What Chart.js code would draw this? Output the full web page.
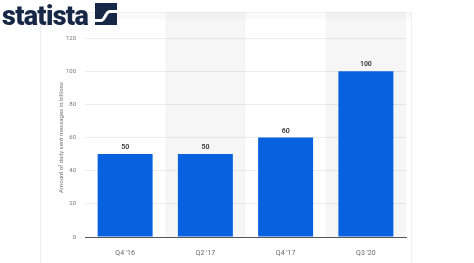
<!DOCTYPE html>
<html>
<head>
<meta charset="utf-8">
<script src="https://cdn.jsdelivr.net/npm/chart.js@4"></script>
<style>
  html, body { margin: 0; padding: 0; background: #fff; }
  .wrap { position: relative; width: 474px; height: 263px; }
  canvas { position: absolute; left: 0; top: 0; }
  .logo-text { position: absolute; left: 2px; top: 3px; font-family: Roboto, sans-serif; font-weight: 900; font-size: 27px; line-height: 27px; color: #172846; letter-spacing: -0.7px; }
  .logo-icon { position: absolute; left: 95px; top: 3px; }
</style>
</head>
<body>
<div class="wrap">
  <canvas id="chart" width="474" height="263"></canvas>
  <div class="logo-text">statista</div>
  <svg class="logo-icon" width="22" height="22" viewBox="0 0 22 22">
    <rect width="22" height="22" fill="#172846"/>
    <path d="M0 17.5 L6 17.5 C10 17.5 10.5 8.5 15 8.5 L22 8.5" stroke="#fff" stroke-width="3" fill="none"/>
  </svg>
</div>
<script>
const categories = ["Q4 '16", "Q2 '17", "Q4 '17", "Q3 '20"];
const messages = [50, 50, 60, 100];
const yTicks = [0, 20, 40, 60, 80, 100, 120];

// shaded bands behind every second category + faint outer panel
const bands = {
  id: 'bands',
  beforeDatasetsDraw(chart) {
    const { ctx, chartArea, scales: { x } } = chart;
    const half = (x.getPixelForValue(1) - x.getPixelForValue(0)) / 2;
    ctx.save();
    ctx.fillStyle = 'rgba(0,0,0,0.035)';
    categories.forEach((c, i) => {
      if (i % 2 === 1) {
        const cx = x.getPixelForValue(i);
        ctx.fillRect(cx - half, chartArea.top - 26, half * 2, chartArea.bottom - chartArea.top + 26);
      }
    });
    ctx.restore();
  },
  beforeDraw(chart) {
    const { ctx } = chart;
    ctx.save();
    ctx.strokeStyle = '#f0f0f0';
    ctx.lineWidth = 1;
    ctx.strokeRect(40.5, 12.5, 371, 260);
    ctx.fillStyle = '#fafafa';
    ctx.fillRect(41, 13, 370, 6);
    ctx.restore();
  }
};

const valueLabels = {
  id: 'valueLabels',
  afterDatasetsDraw(chart) {
    const { ctx } = chart;
    const meta = chart.getDatasetMeta(0);
    ctx.save();
    ctx.font = '600 7px Roboto, sans-serif';
    ctx.fillStyle = '#333';
    ctx.textAlign = 'center';
    ctx.textBaseline = 'bottom';
    meta.data.forEach((bar, i) => {
      ctx.fillText(messages[i], bar.x, bar.y - 3);
    });
    ctx.restore();
  }
};

new Chart(document.getElementById('chart'), {
  type: 'bar',
  data: {
    labels: categories,
    datasets: [{
      data: messages,
      backgroundColor: '#0862e0',
      borderWidth: 0,
      categoryPercentage: 1,
      barPercentage: 0.685
    }]
  },
  options: {
    responsive: false,
    animation: false,
    layout: { padding: { left: 58, right: 68, top: 38, bottom: 0 } },
    plugins: { legend: { display: false }, tooltip: { enabled: false } },
    scales: {
      x: {
        grid: { display: false },
        border: { display: true, color: '#555', width: 1 },
        ticks: { color: '#666', font: { family: 'Roboto, sans-serif', size: 7 }, padding: 4 },
        afterFit: (s) => { s.height = 26; }
      },
      y: {
        min: 0,
        max: 120,
        afterBuildTicks: (s) => { s.ticks = yTicks.map((v) => ({ value: v })); },
        grid: { color: '#ececec', drawTicks: false },
        border: { display: false },
        ticks: { color: '#777', font: { family: 'Roboto, sans-serif', size: 6 }, padding: 9 },
        title: {
          display: true,
          text: 'Amount of daily sent messages in billions',
          color: '#777',
          font: { family: 'Roboto, sans-serif', size: 6 },
          padding: { top: 0, bottom: 4 }
        },
        afterFit: (s) => { s.width = 27; }
      }
    }
  },
  plugins: [bands, valueLabels]
});
</script>
</body>
</html>
